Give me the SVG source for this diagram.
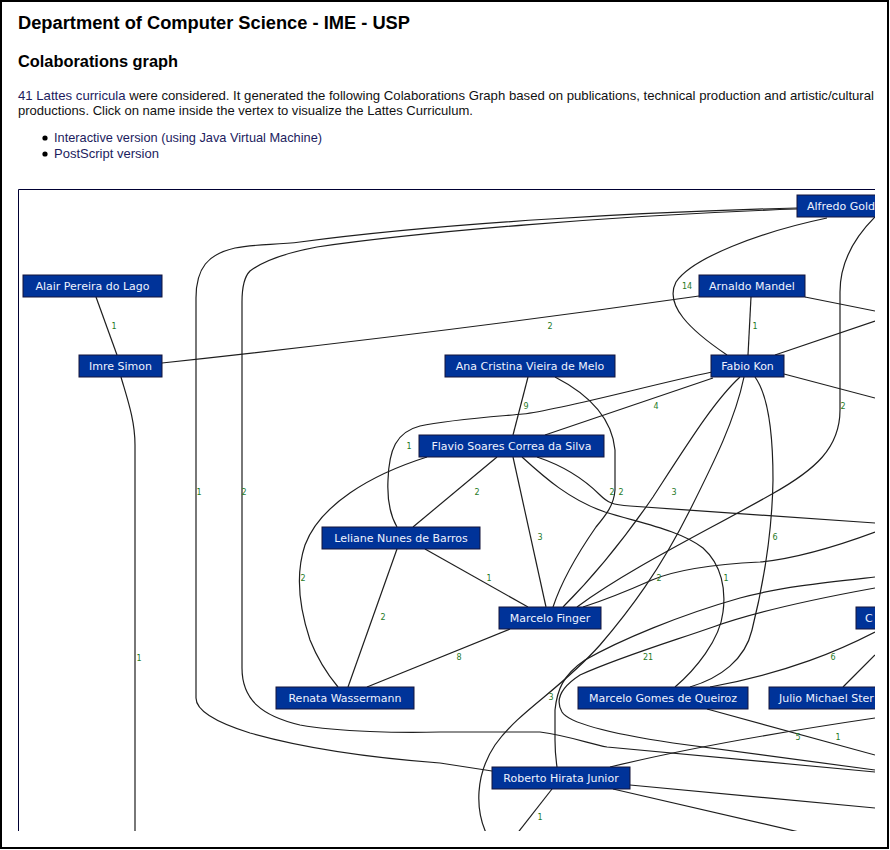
<svg xmlns="http://www.w3.org/2000/svg" width="890" height="850" viewBox="0 0 890 850">
<style>
.h1{font-family:'Liberation Sans',Arial,sans-serif;font-weight:bold;font-size:18px;fill:#000}
.h2{font-family:'Liberation Sans',Arial,sans-serif;font-weight:bold;font-size:16px;fill:#000}
.p{font-family:'Liberation Sans',Arial,sans-serif;font-size:13px;fill:#111}
.lnk{fill:#1c1c5e}
.node rect{fill:#003399;stroke:#15153a;stroke-width:1}
.node text{font-family:'DejaVu Sans',Verdana,sans-serif;font-size:11px;fill:#eef2ff;text-anchor:middle}
.node text.s{text-anchor:start}
#connectors path{fill:none;stroke:#1e1e1e;stroke-width:1.2}
#connectors text{font-family:'DejaVu Sans',Verdana,sans-serif;font-size:8px;fill:#1f7a1f;text-anchor:middle}
</style>
<defs>
<clipPath id="gc"><rect x="18" y="189" width="857" height="642"/></clipPath>
</defs>
<rect x="0" y="0" width="890" height="850" fill="#fff"/>
<rect x="1" y="1" width="887" height="847" fill="none" stroke="#000" stroke-width="2"/>
<g id="header">
<text class="h1" x="18" y="29" textLength="392" lengthAdjust="spacingAndGlyphs">Department of Computer Science - IME - USP</text>
<text class="h2" x="18" y="67" textLength="160" lengthAdjust="spacingAndGlyphs">Colaborations graph</text>
<text class="p" x="18" y="100" textLength="856" lengthAdjust="spacingAndGlyphs"><tspan class="lnk">41 Lattes curricula</tspan> were considered. It generated the following Colaborations Graph based on publications, technical production and artistic/cultural</text>
<text class="p" x="18" y="115" textLength="455" lengthAdjust="spacingAndGlyphs">productions. Click on name inside the vertex to visualize the Lattes Curriculum.</text>
<circle cx="45" cy="138" r="2.6" fill="#000"/>
<circle cx="45" cy="154" r="2.6" fill="#000"/>
<text class="p lnk" x="54" y="142" textLength="268" lengthAdjust="spacingAndGlyphs">Interactive version (using Java Virtual Machine)</text>
<text class="p lnk" x="54" y="158" textLength="105" lengthAdjust="spacingAndGlyphs">PostScript version</text>
</g>
<path d="M18.5,831 V189.5 H875" fill="none" stroke="#000033" stroke-width="1"/>
<g clip-path="url(#gc)">
<g id="connectors">
<path d="M96,297 L117,355"/>
<path d="M162,363 Q440,333 699,296"/>
<path d="M121,377 C127,398 135,420 135,445 L135,835"/>
<path d="M797,208 C650,212 450,222 300,242 C275,245 255,244 235,248 C208,254 196,268 196,298 L196,698 C196,710 215,722 250,733 C320,753 400,760 440,763 L492,771"/>
<path d="M797,209 C620,215 420,232 317,247 C285,253 262,262 250,271 C244,277 242,287 242,302 L242,668 C242,700 262,716 300,725 C340,732 400,733 440,732 L540,732 C570,736 590,744 607,747 L875,772"/>
<path d="M827,218 C760,232 692,258 676,282 C664,305 690,330 727,355"/>
<path d="M875,217 C854,238 840,262 840,292 L840,410 C840,448 815,470 772,494 C705,532 630,568 577,607"/>
<path d="M751,297 L748,355"/>
<path d="M805,297 L875,311"/>
<path d="M775,355 L875,321"/>
<path d="M784,374 L875,398"/>
<path d="M528,377 L513,435"/>
<path d="M555,377 C590,395 612,418 615,450 L615,490 C614,505 606,515 596,527 C580,550 562,580 553,607"/>
<path d="M712,372 C650,385 560,410 523,414 C490,417 447,420 420,426 C396,432 389,450 388,480 C387,500 390,515 397,527"/>
<path d="M713,378 L545,435"/>
<path d="M497,457 L413,527"/>
<path d="M427,457 C370,475 320,505 305,545 C295,575 300,610 310,640 C318,660 328,675 338,687"/>
<path d="M513,457 L546,607"/>
<path d="M537,457 C570,468 590,485 600,495 C607,502 612,505 630,506 L875,523"/>
<path d="M522,457 C545,478 570,500 605,512 C640,523 680,530 703,548 C722,565 726,590 723,612 C720,640 695,670 675,687"/>
<path d="M425,549 L528,607"/>
<path d="M397,549 L348,687"/>
<path d="M510,629 L367,687"/>
<path d="M740,377 C715,400 690,440 653,497 C620,545 590,580 563,607"/>
<path d="M744,377 C735,420 715,460 690,510 C660,570 630,610 600,645 C560,690 520,710 495,745 C475,775 475,810 487,835"/>
<path d="M755,377 C768,395 773,430 773,480 C772,540 762,590 752,630 C745,660 720,678 690,687"/>
<path d="M875,532 C840,545 800,558 760,562 C720,564 680,568 652,580 C625,592 605,600 583,607"/>
<path d="M875,577 C830,582 780,587 740,598 C680,615 620,640 585,660 C563,675 557,690 555,710 L555,740 C555,750 556,760 557,767"/>
<path d="M875,588 C820,598 760,610 713,627 C670,642 620,657 580,675 C560,688 555,700 562,712 C570,725 620,735 673,743 L875,770"/>
<path d="M875,632 C840,650 790,672 710,687"/>
<path d="M843,687 L875,655"/>
<path d="M707,709 L875,755"/>
<path d="M610,767 C680,750 760,735 875,718"/>
<path d="M630,785 L875,808"/>
<path d="M613,789 L812,835"/>
<path d="M552,789 L516,835"/>
<text x="114" y="329">1</text>
<text x="550" y="329">2</text>
<text x="687" y="289">14</text>
<text x="755" y="329">1</text>
<text x="199" y="495">1</text>
<text x="244" y="495">2</text>
<text x="139" y="661">1</text>
<text x="843" y="409">2</text>
<text x="526" y="409">9</text>
<text x="656" y="409">4</text>
<text x="409" y="449">1</text>
<text x="477" y="495">2</text>
<text x="612" y="495">2</text>
<text x="621" y="495">2</text>
<text x="674" y="495">3</text>
<text x="540" y="540">3</text>
<text x="775" y="540">6</text>
<text x="303" y="581">2</text>
<text x="489" y="581">1</text>
<text x="659" y="581">2</text>
<text x="726" y="581">1</text>
<text x="383" y="620">2</text>
<text x="459" y="660">8</text>
<text x="648" y="660">21</text>
<text x="833" y="660">6</text>
<text x="551" y="700">3</text>
<text x="798" y="740">5</text>
<text x="838" y="740">1</text>
<text x="540" y="820">1</text>
</g>
<g id="n-alfredo" class="node"><rect x="797" y="195" width="120" height="22"/><text class="s" x="807" y="210">Alfredo Gold</text></g>
<g id="n-alair" class="node"><rect x="23" y="275" width="139" height="22"/><text x="92.5" y="290">Alair Pereira do Lago</text></g>
<g id="n-arnaldo" class="node"><rect x="699" y="275" width="106" height="22"/><text x="752" y="290">Arnaldo Mandel</text></g>
<g id="n-imre" class="node"><rect x="79" y="355" width="83" height="22"/><text x="120.5" y="370">Imre Simon</text></g>
<g id="n-ana" class="node"><rect x="445" y="355" width="170" height="22"/><text x="530" y="370">Ana Cristina Vieira de Melo</text></g>
<g id="n-fabio" class="node"><rect x="711" y="355" width="73" height="22"/><text x="747.5" y="370">Fabio Kon</text></g>
<g id="n-flavio" class="node"><rect x="419" y="435" width="185" height="22"/><text x="511.5" y="450">Flavio Soares Correa da Silva</text></g>
<g id="n-leliane" class="node"><rect x="322" y="527" width="158" height="22"/><text x="401" y="542">Leliane Nunes de Barros</text></g>
<g id="n-finger" class="node"><rect x="499" y="607" width="102" height="22"/><text x="550" y="622">Marcelo Finger</text></g>
<g id="n-c" class="node"><rect x="856" y="607" width="60" height="22"/><text class="s" x="865" y="622">C</text></g>
<g id="n-renata" class="node"><rect x="276" y="687" width="138" height="22"/><text x="345" y="702">Renata Wassermann</text></g>
<g id="n-mgq" class="node"><rect x="578" y="687" width="170" height="22"/><text x="663" y="702">Marcelo Gomes de Queiroz</text></g>
<g id="n-julio" class="node"><rect x="769" y="687" width="150" height="22"/><text class="s" x="779" y="702">Julio Michael Ster</text></g>
<g id="n-roberto" class="node"><rect x="492" y="767" width="138" height="22"/><text x="561" y="782">Roberto Hirata Junior</text></g>
</g>
</svg>
